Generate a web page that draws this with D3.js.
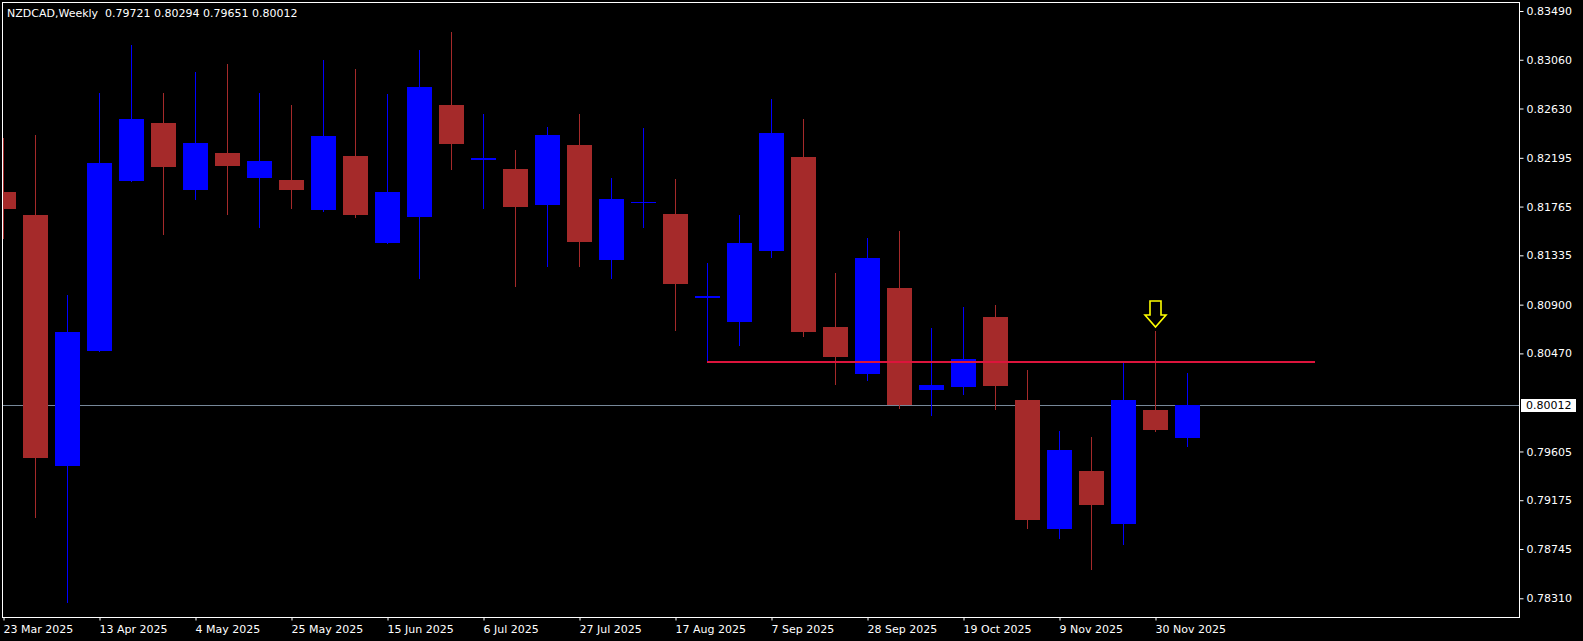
<!DOCTYPE html>
<html>
<head>
<meta charset="utf-8">
<script src="https://cdn.jsdelivr.net/npm/d3@7"></script>
<style>
  html, body { margin: 0; padding: 0; background: #000; overflow: hidden; }
  svg { display: block; }
  text { font-family: "DejaVu Sans", sans-serif; font-size: 11px; }
</style>
</head>
<body>
<svg id="chart" width="1583" height="641"></svg>
<script>
// ---------- DATA ----------
const symbol = "NZDCAD";
const period = "Weekly";
const dates = ["2025-03-23","2025-03-30","2025-04-06","2025-04-13","2025-04-20","2025-04-27",
  "2025-05-04","2025-05-11","2025-05-18","2025-05-25","2025-06-01","2025-06-08","2025-06-15",
  "2025-06-22","2025-06-29","2025-07-06","2025-07-13","2025-07-20","2025-07-27","2025-08-03",
  "2025-08-10","2025-08-17","2025-08-24","2025-08-31","2025-09-07","2025-09-14","2025-09-21",
  "2025-09-28","2025-10-05","2025-10-12","2025-10-19","2025-10-26","2025-11-02","2025-11-09",
  "2025-11-16","2025-11-23","2025-11-30","2025-12-07"];
const open  = [0.81894,0.81692,0.79478,0.80494,0.81993,0.82501,0.81907,0.82239,0.82020,0.82000,
  0.81735,0.82213,0.81443,0.81669,0.82661,0.82180,0.82096,0.81782,0.82309,0.81296,0.81803,0.81698,
  0.80962,0.80749,0.81373,0.82202,0.80703,0.80291,0.81047,0.80150,0.80176,0.80791,0.80059,0.78921,
  0.79433,0.78968,0.79971,0.79721];
const high  = [0.82372,0.82395,0.80984,0.82767,0.83192,0.82767,0.82953,0.83023,0.82767,0.82661,
  0.83059,0.82979,0.82757,0.83145,0.83305,0.82581,0.82266,0.82468,0.82581,0.82017,0.82458,0.82006,
  0.81270,0.81692,0.82714,0.82537,0.81179,0.81488,0.81550,0.80694,0.80879,0.80897,0.80324,0.79786,
  0.79733,0.80388,0.80668,0.80294];
const low   = [0.81492,0.79030,0.78273,0.80490,0.81990,0.81526,0.81834,0.81701,0.81588,0.81754,
  0.81730,0.81675,0.81440,0.81131,0.82100,0.81754,0.81065,0.81244,0.81244,0.81137,0.81588,0.80679,
  0.80391,0.80540,0.81323,0.80624,0.80200,0.80238,0.79991,0.79929,0.80115,0.79980,0.78933,0.78845,
  0.78571,0.78792,0.79786,0.79651];
const close = [0.81748,0.79551,0.80660,0.82149,0.82537,0.82110,0.82326,0.82126,0.82166,0.81907,
  0.82388,0.81695,0.81894,0.82820,0.82319,0.82192,0.81765,0.82395,0.81456,0.81831,0.81806,0.81084,
  0.80975,0.81443,0.82414,0.80661,0.80441,0.81311,0.80015,0.80191,0.80421,0.80185,0.79003,0.79618,
  0.79136,0.80059,0.79797,0.80012];
const priceTicks = [0.83490,0.83060,0.82630,0.82195,0.81765,0.81335,0.80900,0.80470,
  0.79605,0.79175,0.78745,0.78310];
const dateTickEvery = 3;
const levelPrice = 0.80395;      // horizontal red level
const levelFrom = 22, levelTo = 41; // bar indices
const arrowBar = 36;             // yellow down arrow above this bar
const bidPrice = close[close.length - 1];

// ---------- LAYOUT ----------
const W = 1583, H = 641;
const plot = { left: 2, top: 2, right: 1519, bottom: 617 };
const barStep = 32, firstCenter = 3, bodyW = 25;

const svg = d3.select("#chart");
svg.append("rect").attr("width", W).attr("height", H).attr("fill", "#000");

const x = d3.scaleLinear().domain([0, 1]).range([firstCenter, firstCenter + barStep]);
const y = d3.scaleLinear().domain([0.78310, 0.83490]).range([598.3, 11]);

const parse = d3.timeParse("%Y-%m-%d");
const fmtDate = d3.timeFormat("%-d %b %Y");
const fmtPrice = d3.format(".5f");

const bars = dates.map((d, i) => ({ i, date: parse(d), o: open[i], h: high[i], l: low[i], c: close[i] }));

const defs = svg.append("defs");
defs.append("clipPath").attr("id", "clip").append("rect")
  .attr("x", plot.left + 1).attr("y", plot.top + 1)
  .attr("width", plot.right - plot.left - 1).attr("height", plot.bottom - plot.top - 1);

const g = svg.append("g").attr("clip-path", "url(#clip)");

// bid line
g.append("line")
  .attr("x1", plot.left).attr("x2", plot.right)
  .attr("y1", Math.round(y(bidPrice)) + 0.5).attr("y2", Math.round(y(bidPrice)) + 0.5)
  .attr("stroke", "#778899").attr("stroke-width", 1);

const UP = "#0000ff", DOWN = "#a52a2a";
const col = b => (b.c >= b.o ? UP : DOWN);

// wicks
g.selectAll("line.wick").data(bars).join("line")
  .attr("class", "wick")
  .attr("x1", b => Math.round(x(b.i)) + 0.5).attr("x2", b => Math.round(x(b.i)) + 0.5)
  .attr("y1", b => Math.round(y(b.h))).attr("y2", b => Math.round(y(b.l)) + 1)
  .attr("stroke", col).attr("stroke-width", 1);

// bodies
g.selectAll("rect.body").data(bars).join("rect")
  .attr("class", "body")
  .attr("x", b => Math.round(x(b.i)) - 12)
  .attr("width", bodyW)
  .attr("y", b => Math.round(y(Math.max(b.o, b.c))))
  .attr("height", b => Math.max(1, Math.round(y(Math.min(b.o, b.c))) - Math.round(y(Math.max(b.o, b.c)))))
  .attr("fill", col);

// level line
g.append("line")
  .attr("x1", Math.round(x(levelFrom))).attr("x2", Math.round(x(levelTo)))
  .attr("y1", Math.round(y(levelPrice))).attr("y2", Math.round(y(levelPrice)))
  .attr("stroke", "#dc143c").attr("stroke-width", 2);

// arrow
{
  const cx = Math.round(x(arrowBar)) + 0.5;
  const tip = Math.round(y(high[arrowBar])) - 4;
  const p = d3.path();
  p.moveTo(cx - 5.5, tip - 26);
  p.lineTo(cx + 5.5, tip - 26);
  p.lineTo(cx + 5.5, tip - 12);
  p.lineTo(cx + 10.5, tip - 12);
  p.lineTo(cx, tip);
  p.lineTo(cx - 10.5, tip - 12);
  p.lineTo(cx - 5.5, tip - 12);
  p.closePath();
  g.append("path").attr("d", p.toString())
    .attr("fill", "#000").attr("stroke", "#ffff00").attr("stroke-width", 1.6)
    .attr("stroke-linejoin", "miter");
}

// frame
svg.append("rect")
  .attr("x", plot.left + 0.5).attr("y", plot.top + 0.5)
  .attr("width", plot.right - plot.left).attr("height", plot.bottom - plot.top)
  .attr("fill", "none").attr("stroke", "#ffffff").attr("stroke-width", 1);

// right price axis
const yAxis = d3.axisRight(y).tickValues(priceTicks).tickSize(4).tickPadding(3).tickFormat(fmtPrice);
const ya = svg.append("g").attr("transform", `translate(${plot.right + 0.5},0)`).call(yAxis);
ya.select(".domain").remove();
ya.selectAll(".tick line").attr("stroke", "#ffffff");
ya.selectAll(".tick text").attr("fill", "#ffffff").style("font-family", "DejaVu Sans").style("font-size", "11px");

// bid price label
{
  const by = Math.round(y(bidPrice));
  svg.append("rect").attr("x", 1521).attr("y", by - 6).attr("width", 55).attr("height", 13).attr("fill", "#ffffff");
  svg.append("text").attr("x", plot.right + 7).attr("y", by).attr("dy", "0.35em")
    .attr("fill", "#000000").text(fmtPrice(bidPrice));
}

// bottom date axis
const tickIdx = bars.filter(b => b.i % dateTickEvery === 0).map(b => b.i);
const xAxis = d3.axisBottom(x).tickValues(tickIdx).tickSize(3).tickFormat(i => fmtDate(bars[i].date));
const xa = svg.append("g").attr("transform", `translate(0,${plot.bottom + 0.5})`).call(xAxis);
xa.select(".domain").remove();
xa.selectAll(".tick line").attr("stroke", "#ffffff").attr("transform", "translate(0.5,0)");
xa.selectAll(".tick text").attr("fill", "#ffffff").attr("text-anchor", "start")
  .attr("x", 0).attr("y", 15).attr("dy", "0")
  .style("font-family", "DejaVu Sans").style("font-size", "11px");

// title
const last = bars.length - 1;
svg.append("text").attr("x", 7).attr("y", 17).attr("fill", "#ffffff")
  .style("white-space", "pre")
  .text(`${symbol},${period}  ${fmtPrice(open[last])} ${fmtPrice(high[last])} ${fmtPrice(low[last])} ${fmtPrice(close[last])}`);
</script>
</body>
</html>
